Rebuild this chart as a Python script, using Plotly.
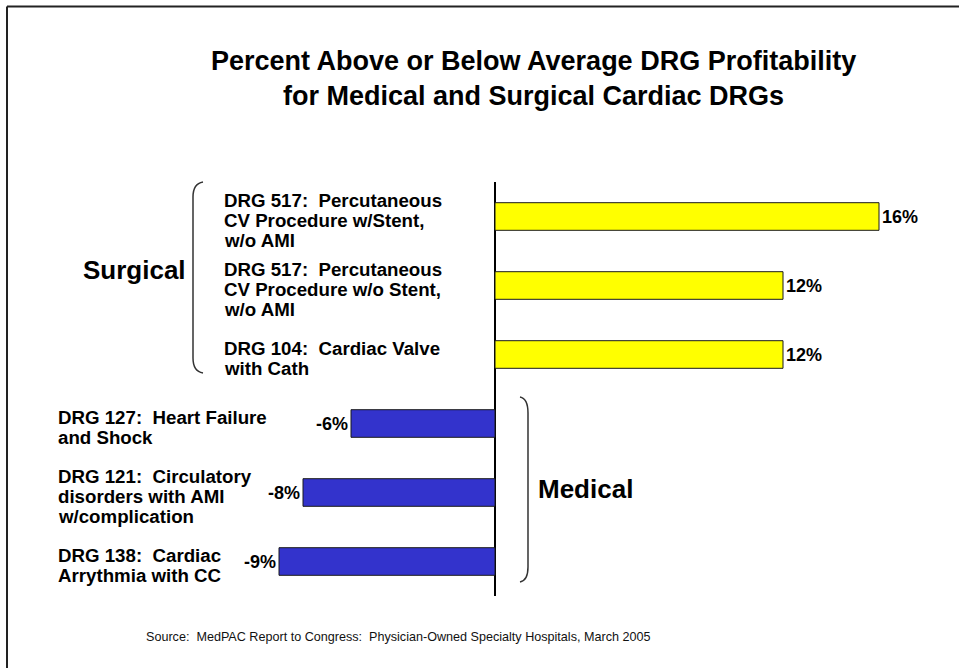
import plotly.graph_objects as go

# ---------------- data ----------------
categories = [
    "DRG 517:  Percutaneous<br>CV Procedure w/Stent,<br>w/o AMI",
    "DRG 517:  Percutaneous<br>CV Procedure w/o Stent,<br>w/o AMI",
    "DRG 104:  Cardiac Valve<br>with Cath",
    "DRG 127:  Heart Failure<br>and Shock",
    "DRG 121:  Circulatory<br>disorders with AMI<br>w/complication",
    "DRG 138:  Cardiac<br>Arrythmia with CC",
]
groups = ["Surgical", "Surgical", "Surgical", "Medical", "Medical", "Medical"]
values = [16, 12, 12, -6, -8, -9]
value_labels = ["16%", "12%", "12%", "-6%", "-8%", "-9%"]
group_names = ["Surgical", "Medical"]
title_text = "Percent Above or Below Average DRG Profitability<br>for Medical and Surgical Cardiac DRGs"
source_text = "Source:  MedPAC Report to Congress:  Physician-Owned Specialty Hospitals, March 2005"

# ---------------- style / layout ----------------
FIG_W, FIG_H = 959, 668
L, R, T, B = 40, 19, 182, 72
PW, PH = FIG_W - L - R, FIG_H - T - B
ZERO_PX = 495
PX_PER_UNIT = 24
FONT = "Liberation Sans, Arial, Helvetica, sans-serif"
colors = {"Surgical": "#FFFF00", "Medical": "#3333CC"}
label_left_px = {"Surgical": 222, "Medical": 56}
group_label_pos = {"Surgical": (134, 270), "Medical": (585, 489)}
LINE_GAP = 20
LABEL_DY = 4
LABEL_SIZE = 18.7


def xp(px):
    return (px - L) / PW


def yp(py):
    return 1 - (py - T) / PH


def path(points_cmds):
    out = []
    for cmd, pts in points_cmds:
        coords = " ".join(f"{xp(x):.5f},{yp(y):.5f}" for x, y in pts)
        out.append(f"{cmd} {coords}")
    return " ".join(out)


x_range = [(L - ZERO_PX) / PX_PER_UNIT, (FIG_W - R - ZERO_PX) / PX_PER_UNIT]

fig = go.Figure()
fig.add_trace(go.Bar(
    y=categories,
    x=values,
    orientation="h",
    width=0.4,
    marker=dict(color=[colors[g] for g in groups], line=dict(color="#1a1a1a", width=1)),
    text=value_labels,
    textposition="outside",
    textfont=dict(family=FONT, size=18, color="black", weight="bold"),
    cliponaxis=False,
    hoverinfo="skip",
))

annotations = []
# category labels, line by line
for cat, g in zip(categories, groups):
    lines = cat.split("<br>")
    n = len(lines)
    for j, line in enumerate(lines):
        off = LABEL_DY + (j - (n - 1) / 2) * LINE_GAP
        annotations.append(dict(
            x=xp(label_left_px[g]), xref="paper", xanchor="left",
            y=cat, yref="y", yanchor="middle", yshift=-off,
            text=line, showarrow=False,
            font=dict(family=FONT, size=LABEL_SIZE, color="black", weight="bold"),
        ))

for g in group_names:
    gx, gy = group_label_pos[g]
    annotations.append(dict(
        x=xp(gx), y=yp(gy), xref="paper", yref="paper",
        xanchor="center", yanchor="middle", text=g, showarrow=False,
        font=dict(family=FONT, size=26, color="black", weight="bold"),
    ))

annotations.append(dict(
    x=xp(533), y=yp(78), xref="paper", yref="paper",
    xanchor="center", yanchor="middle", text=title_text, showarrow=False,
    font=dict(family=FONT, size=27, color="black", weight="bold"),
))
annotations.append(dict(
    x=xp(398), y=yp(637), xref="paper", yref="paper",
    xanchor="center", yanchor="middle", text=source_text, showarrow=False,
    font=dict(family=FONT, size=12.6, color="#111111"),
))

shapes = [
    # page border (top and left visible)
    dict(type="line", xref="paper", yref="paper", x0=xp(7), y0=yp(6.5), x1=xp(FIG_W + 5), y1=yp(6.5),
         line=dict(color="#222222", width=2)),
    dict(type="line", xref="paper", yref="paper", x0=xp(7), y0=yp(6.5), x1=xp(7), y1=yp(FIG_H + 5),
         line=dict(color="#222222", width=2)),
    # Surgical bracket
    dict(type="path", xref="paper", yref="paper",
         path=path([("M", [(203, 182)]), ("C", [(197, 183), (193, 188), (193, 197)]),
                    ("L", [(193, 358)]), ("C", [(193, 367), (197, 372), (203, 373)])]),
         line=dict(color="#333333", width=1.5)),
    # Medical bracket
    dict(type="path", xref="paper", yref="paper",
         path=path([("M", [(520, 397)]), ("C", [(525, 398), (528, 403), (528, 413)]),
                    ("L", [(528, 567)]), ("C", [(528, 577), (525, 581), (520, 582)])]),
         line=dict(color="#333333", width=1.5)),
]

fig.update_layout(
    width=FIG_W, height=FIG_H,
    margin=dict(l=L, r=R, t=T, b=B, pad=0),
    paper_bgcolor="white", plot_bgcolor="white",
    showlegend=False,
    xaxis=dict(range=x_range, showgrid=False, showticklabels=False, ticks="",
               zeroline=True, zerolinecolor="black", zerolinewidth=1.5, showline=False,
               fixedrange=True),
    yaxis=dict(type="category", categoryorder="array", categoryarray=categories,
               range=[len(categories) - 0.5, -0.5], showgrid=False, showticklabels=False,
               ticks="", zeroline=False, showline=False, fixedrange=True),
    annotations=annotations,
    shapes=shapes,
    bargap=0.6,
)

fig.write_html(
    "out.html",
    config={"displayModeBar": False},
    post_script="document.body.style.margin='0';document.body.style.overflow='hidden';",
)
